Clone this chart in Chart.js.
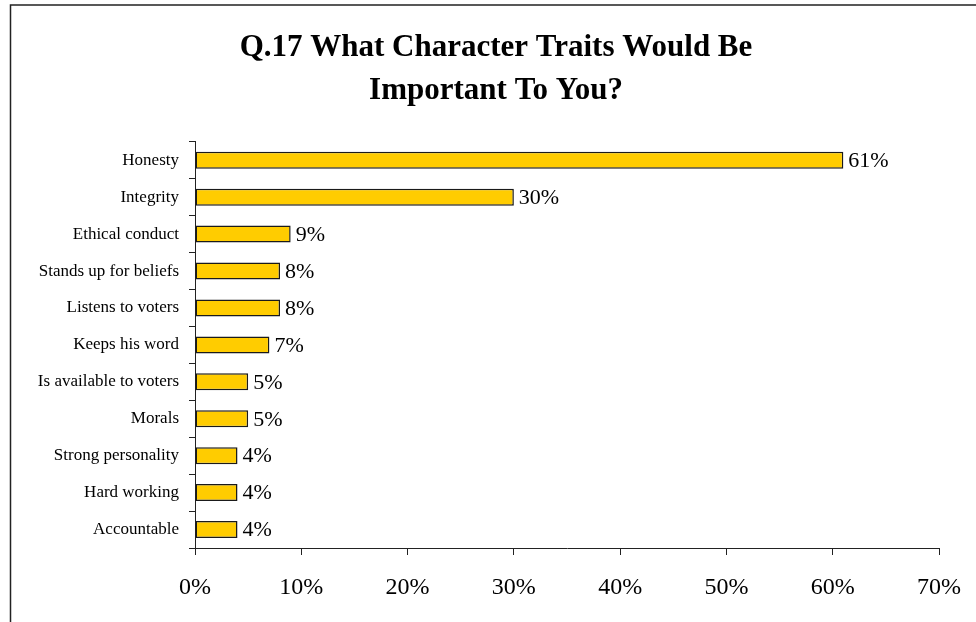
<!DOCTYPE html>
<html>
<head>
<meta charset="utf-8">
<title>Q.17 Character Traits</title>
<script src="https://cdn.jsdelivr.net/npm/chart.js@4.4.1/dist/chart.umd.min.js"></script>
<style>
  html, body { margin: 0; padding: 0; background: #fff; }
  #wrap { position: relative; width: 976px; height: 622px; }
</style>
</head>
<body>
<div id="wrap"><canvas id="traitsChart" width="976" height="622"></canvas></div>
<script>
// Survey answers, top to bottom
const traits = ['Honesty', 'Integrity', 'Ethical conduct', 'Stands up for beliefs', 'Listens to voters',
  'Keeps his word', 'Is available to voters', 'Morals', 'Strong personality', 'Hard working', 'Accountable'];
const shares = [61, 30, 9, 8, 8, 7, 5, 5, 4, 4, 4];
const xTicks = [0, 10, 20, 30, 40, 50, 60, 70];

const serif = '"Liberation Serif", "Times New Roman", serif';

// Outer frame line (left + top)
const framePlugin = {
  id: 'frame',
  beforeDraw(chart) {
    const c = chart.ctx;
    c.save();
    c.strokeStyle = '#222';
    c.lineWidth = 1.5;
    c.beginPath();
    c.moveTo(976, 5);
    c.lineTo(10.5, 5);
    c.lineTo(10.5, 622);
    c.stroke();
    c.restore();
  }
};

// Percent labels at the end of each bar
const valueLabels = {
  id: 'valueLabels',
  afterDatasetsDraw(chart) {
    const c = chart.ctx;
    const meta = chart.getDatasetMeta(0);
    c.save();
    c.font = '22px ' + serif;
    c.fillStyle = '#000';
    c.textBaseline = 'middle';
    c.textAlign = 'left';
    meta.data.forEach((bar, i) => {
      c.fillText(shares[i] + '%', bar.x + 5, bar.y + 1);
    });
    c.restore();
  }
};

const ctx = document.getElementById('traitsChart').getContext('2d');

new Chart(ctx, {
  type: 'bar',
  data: {
    labels: traits,
    datasets: [{
      data: shares,
      backgroundColor: '#FFCC00',
      borderColor: '#1a1a1a',
      borderWidth: 1.5,
      borderSkipped: false,
      categoryPercentage: 1,
      barPercentage: 0.46
    }]
  },
  options: {
    indexAxis: 'y',
    responsive: false,
    animation: false,
    layout: { padding: { left: 30, right: 14, top: 0, bottom: 0 } },
    plugins: {
      legend: { display: false },
      tooltip: { enabled: false },
      title: {
        display: true,
        text: ['Q.17 What Character Traits Would Be', 'Important To You?'],
        color: '#000',
        font: { family: serif, size: 31, weight: 'bold', lineHeight: 1.4 },
        padding: { top: 26, bottom: 29 }
      }
    },
    scales: {
      x: {
        min: 0,
        max: 70,
        afterBuildTicks: (axis) => { axis.ticks = xTicks.map(v => ({ value: v })); },
        afterFit: (axis) => { axis.height = 74; axis.paddingRight = 37; },
        border: { display: true, color: '#222', width: 1 },
        grid: { drawOnChartArea: false, drawTicks: true, tickLength: 7, color: '#222' },
        ticks: {
          color: '#000',
          font: { family: serif, size: 24 },
          padding: 18,
          callback: (v) => v + '%'
        }
      },
      y: {
        afterFit: (axis) => { axis.width = 165; },
        border: { display: true, color: '#222', width: 1 },
        grid: { drawOnChartArea: false, drawTicks: true, tickLength: 6, color: '#222', offset: true },
        ticks: {
          color: '#000',
          font: { family: serif, size: 17 },
          padding: 10
        }
      }
    }
  },
  plugins: [framePlugin, valueLabels]
});
</script>
</body>
</html>
